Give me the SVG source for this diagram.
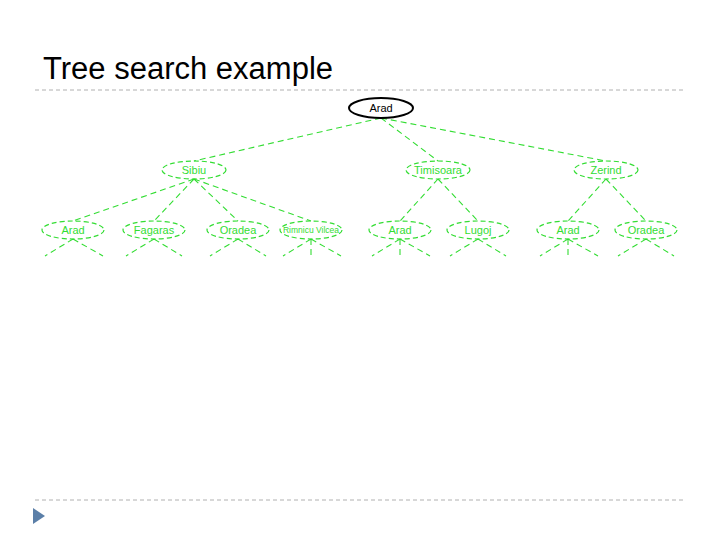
<svg xmlns="http://www.w3.org/2000/svg" width="720" height="540" viewBox="0 0 720 540">
<style>
.sep{stroke:#b0b0b0;stroke-width:1;stroke-dasharray:4 3}
.n{fill:none;stroke:#33dd33;stroke-width:1.2;stroke-dasharray:5 3}
.e{stroke:#33dd33;stroke-width:1.1;stroke-dasharray:6 4;fill:none}
.t{font-family:"Liberation Sans",Arial,sans-serif;font-size:11px;fill:#33dd33;text-anchor:middle}
</style>
<rect width="720" height="540" fill="#fff"/>
<text x="43" y="79" font-family="Liberation Sans,Arial,sans-serif" font-size="31" fill="#000">Tree search example</text>
<line class="sep" x1="35" y1="90" x2="685" y2="90"/>
<line class="sep" x1="35" y1="500" x2="685" y2="500"/>
<polygon points="33,508 33,524 45,516" fill="#5b7fa8"/>
<g id="edges">
<line class="e" x1="381" y1="118" x2="194" y2="161"/>
<line class="e" x1="381" y1="118" x2="438" y2="161"/>
<line class="e" x1="381" y1="118" x2="606" y2="161"/>
<line class="e" x1="194" y1="179" x2="73" y2="221"/>
<line class="e" x1="194" y1="179" x2="154" y2="221"/>
<line class="e" x1="194" y1="179" x2="238" y2="221"/>
<line class="e" x1="194" y1="179" x2="311" y2="221"/>
<line class="e" x1="438" y1="179" x2="400" y2="221"/>
<line class="e" x1="438" y1="179" x2="478" y2="221"/>
<line class="e" x1="606" y1="179" x2="568" y2="221"/>
<line class="e" x1="606" y1="179" x2="646" y2="221"/>
<path class="e" d="M73 239L45 256M73 239L103 256M154 239L126 256M154 239L182 256M238 239L210 256M238 239L266 256M311 239L283 256M311 239V256M311 239L341 256M400 239L372 256M400 239V256M400 239L430 256M478 239L450 256M478 239L506 256M568 239L540 256M568 239V256M568 239L598 256M646 239L618 256M646 239L674 256"/>
</g>
<g id="n-root"><ellipse cx="381" cy="108" rx="32" ry="10" fill="#fff" stroke="#000" stroke-width="2"/><text x="381" y="112" font-family="Liberation Sans,Arial,sans-serif" font-size="11" text-anchor="middle">Arad</text></g>
<g id="n-sibiu"><ellipse class="n" cx="194" cy="170" rx="32" ry="9"/><text class="t" x="194" y="174">Sibiu</text></g>
<g id="n-timisoara"><ellipse class="n" cx="438" cy="170" rx="32" ry="9"/><text class="t" x="438" y="174">Timisoara</text></g>
<g id="n-zerind"><ellipse class="n" cx="606" cy="170" rx="32" ry="9"/><text class="t" x="606" y="174">Zerind</text></g>
<g id="n-l1"><ellipse class="n" cx="73" cy="230" rx="31" ry="9"/><text class="t" x="73" y="234">Arad</text></g>
<g id="n-l2"><ellipse class="n" cx="154" cy="230" rx="31" ry="9"/><text class="t" x="154" y="234">Fagaras</text></g>
<g id="n-l3"><ellipse class="n" cx="238" cy="230" rx="31" ry="9"/><text class="t" x="238" y="234">Oradea</text></g>
<g id="n-l4"><ellipse class="n" cx="311" cy="230" rx="31" ry="9"/><text class="t" x="311" y="233" style="font-size:8.5px">Rimnicu Vilcea</text></g>
<g id="n-l5"><ellipse class="n" cx="400" cy="230" rx="31" ry="9"/><text class="t" x="400" y="234">Arad</text></g>
<g id="n-l6"><ellipse class="n" cx="478" cy="230" rx="31" ry="9"/><text class="t" x="478" y="234">Lugoj</text></g>
<g id="n-l7"><ellipse class="n" cx="568" cy="230" rx="31" ry="9"/><text class="t" x="568" y="234">Arad</text></g>
<g id="n-l8"><ellipse class="n" cx="646" cy="230" rx="31" ry="9"/><text class="t" x="646" y="234">Oradea</text></g>
</svg>
